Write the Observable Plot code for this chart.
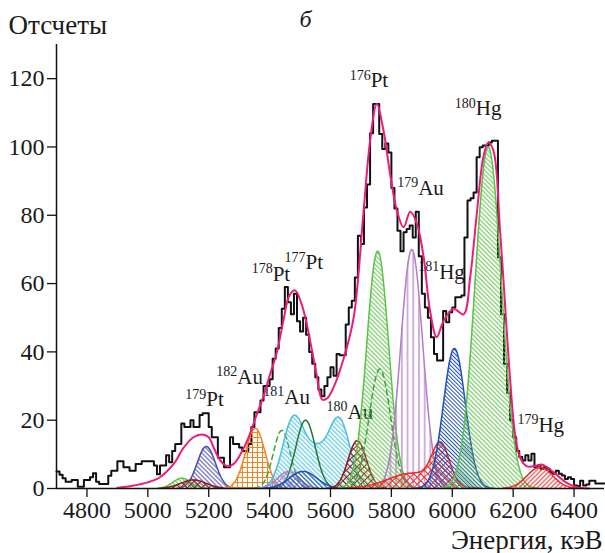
<!DOCTYPE html>
<html><head><meta charset="utf-8">
<script src="https://cdn.jsdelivr.net/npm/d3@7"></script>
<script src="https://cdn.jsdelivr.net/npm/@observablehq/plot@0.6"></script>
<style>body{margin:0;background:#fff} svg{display:block}</style>
</head><body><div id="chart"></div>
<script>
// ---------- data ----------
const binStart = 4700, binWidth = 10;
const counts = [
  5, 4, 3, 2, 2, 2.5, 2.5, 0.5, 0.5, 2.5,
  2.5, 3.3, 4.5, 2, 1.3, 1.3, 1.3, 3.7, 5.2, 5.2,
  8, 8, 6.2, 6.2, 5.2, 5.2, 7.2, 7.2, 8, 8,
  8, 8, 6.7, 4.2, 6.7, 6.7, 9.7, 7.7, 11, 13,
  13, 19, 18, 18, 20, 18, 18, 21.5, 22, 22,
  18, 15, 15, 9, 9, 6.2, 6.2, 15, 13, 13,
  12, 11, 11, 13, 18, 22.3, 22.3, 25.8, 30, 30,
  32, 38, 41, 47, 52.6, 59, 54.5, 51, 57, 49,
  46, 50, 45, 40, 36.5, 32.6, 29, 27, 30, 32.6,
  35.5, 33, 39.4, 39, 39, 48, 53, 55, 61.8, 74,
  71.6, 82.3, 89, 104, 112.6, 112.6, 103.8, 99.4, 101, 98.4,
  88, 82, 75.5, 69.5, 75, 76, 77, 73.5, 81, 68,
  57, 53, 50, 44.3, 39.4, 37.5, 37.5, 52, 48.7, 51.6,
  53, 56, 56, 56.5, 73.5, 84.3, 85, 86.7, 97, 99.9,
  100.4, 100.4, 101.3, 101.8, 101.8, 67.7, 51, 36.5, 28, 20,
  15, 11, 9.2, 8.2, 9.7, 8.2, 10.2, 6.2, 6.7, 5.8,
  6.2, 5.8, 4.8, 4.3, 5.2, 4.3, 3.8, 2.8, 3.3, 2.8,
  0.9, 0.7, 2.3, 0.9, 1.2, 2.3, 2.3, 1.5, 1.5, 1.5
];

// total fit curve
const fitEnergy = [4900, 4950, 5000, 5040, 5085, 5118, 5150, 5178, 5200, 5216, 5238, 5262, 5282, 5304, 5331, 5359, 5380, 5400, 5424, 5445, 5465, 5484, 5505, 5520, 5540, 5555, 5573, 5590, 5610, 5643, 5676, 5708, 5730, 5752, 5774, 5796, 5818, 5840, 5862, 5884, 5906, 5927, 5949, 5971, 6004, 6037, 6059, 6080, 6102, 6118, 6135, 6157, 6179, 6190, 6206, 6223, 6245, 6278, 6294, 6332, 6365, 6392, 6420, 6450];
const fitCounts = [0.2, 0.8, 1.8, 3.3, 7.2, 12, 15, 15.8, 15, 12, 8.2, 6.5, 7.2, 10, 15, 22, 27, 33, 40, 49, 56.5, 58, 54, 49, 40, 33, 26, 26.5, 29.6, 38, 50, 80.4, 101.8, 112.6, 104.8, 92, 81.4, 76.5, 81, 77.5, 67.7, 52, 44.3, 49, 52.6, 51, 62, 80, 97, 101.3, 99, 75.5, 46, 32, 16, 9, 6.5, 6.7, 7, 4.8, 2.3, 0.9, 0.2, 0];

// fitted peak components: [centre keV, height, width sigma keV]
const peakNames = ["179Pt", "low-green", "low-brown", "182Au", "dashed-1", "181Au+180Au", "177Pt", "small-violet", "small-blue", "brown", "176Pt", "dashed-2", "179Au", "red", "181Hg", "180Hg", "179Hg"];
const peakParams = [
  [[5192, 12.3, 30]],
  [[5112, 3, 30]],
  [[5150, 2.5, 42]],
  [[5353, 17.6, 32]],
  [[5440, 17, 28]],
  [[5480, 21, 36], [5627, 20.5, 36], [5553, 8, 30]],
  [[5518, 20, 32]],
  [[5462, 5, 35]],
  [[5510, 5, 45]],
  [[5688, 14, 30]],
  [[5755, 69.5, 36]],
  [[5762, 35, 35]],
  [[5867, 70, 36]],
  [[5962, 11.3, 28], [5870, 4.5, 80]],
  [[6007, 41, 36]],
  [[6118, 100, 43]],
  [[6288, 6.2, 42]]
];

// isotope labels (mass number, element, anchor energy, anchor count)
const labelMass = ["179", "182", "181", "180", "178", "177", "176", "180", "179", "181", "179"];
const labelElem = ["Pt", "Au", "Au", "Au", "Pt", "Pt", "Pt", "Hg", "Au", "Hg", "Hg"];
const labelEnergy = [5192, 5294, 5448, 5656, 5410, 5518, 5732, 6077, 5888, 5957, 6283];
const labelCount = [26.2, 32.7, 26.8, 22.4, 62.8, 66.3, 119.6, 111.4, 88.0, 63.4, 18.6];

const xTicks = [4800, 5000, 5200, 5400, 5600, 5800, 6000, 6200, 6400];
const yTicks = [0, 20, 40, 60, 80, 100, 120];

// ---------- styles ----------
const peakColor = ["#4b4bb0", "#5cc24a", "#8b1c1c", "#f5821f", "#3aa33a", "#45c2dc", "#1e7b35", "#b07cc6", "#2050b8", "#8b1c1c", "#5cc24a", "#3aa33a", "#b37cc6", "#ee2a24", "#2050b8", "#5cc24a", "#ee2a24"];
const peakHatch = ["back", "back", "cross", "grid", null, "back", null, "cross", "back", "cross", "back", null, "vert", "cross", "backd", "back", "fwd"];
const peakDashed = [false, false, false, false, true, false, false, false, false, false, false, true, false, false, false, false, false];

function patternSvg(id, kind, color) {
  const sw = 1;
  if (kind === "back" || kind === "fwd" || kind === "backd") {
    const w = kind === "backd" ? 2.8 : 3.2;
    const rot = kind === "fwd" ? 45 : -45;
    return `<pattern id="${id}" patternUnits="userSpaceOnUse" width="${w}" height="${w}" patternTransform="rotate(${rot})"><line x1="${w/2}" y1="0" x2="${w/2}" y2="${w}" stroke="${color}" stroke-width="${sw}"/></pattern>`;
  }
  if (kind === "cross") {
    const w = 5;
    return `<pattern id="${id}" patternUnits="userSpaceOnUse" width="${w}" height="${w}" patternTransform="rotate(45)"><line x1="${w/2}" y1="0" x2="${w/2}" y2="${w}" stroke="${color}" stroke-width="${sw}"/><line x1="0" y1="${w/2}" x2="${w}" y2="${w/2}" stroke="${color}" stroke-width="${sw}"/></pattern>`;
  }
  if (kind === "grid") {
    const w = 5;
    return `<pattern id="${id}" patternUnits="userSpaceOnUse" width="${w}" height="${w}"><line x1="${w/2}" y1="0" x2="${w/2}" y2="${w}" stroke="${color}" stroke-width="${sw}"/><line x1="0" y1="${w/2}" x2="${w}" y2="${w/2}" stroke="${color}" stroke-width="${sw}"/></pattern>`;
  }
  if (kind === "vert") {
    const w = 5.7;
    return `<pattern id="${id}" patternUnits="userSpaceOnUse" width="${w}" height="${w}"><line x1="${w/2}" y1="0" x2="${w/2}" y2="${w}" stroke="${color}" stroke-width="1.2"/></pattern>`;
  }
  return "";
}

// ---------- build ----------
const hist = counts.map((c, i) => ({e: binStart + i * binWidth, c}));
hist.push({e: binStart + counts.length * binWidth, c: counts[counts.length - 1]});
const fit = fitEnergy.map((e, i) => ({e, c: fitCounts[i]}));
const labels = labelMass.map((m, i) => ({mass: m, elem: labelElem[i], e: labelEnergy[i], c: labelCount[i]}));

const grid = d3.range(4700, 6500.001, 2);
const shapes = peakParams.map((peaks) =>
  grid.map(e => ({e, v: d3.sum(peaks, ([c, a, s]) => a * Math.exp(-((e - c) ** 2) / (2 * s * s)))}))
      .filter(d => d.v > 0.08)
);

const font = "'Liberation Serif', 'DejaVu Serif', serif";
const ink = "#1a1a1a";
const marks = [];
marks.push(Plot.text(labels, {x: "e", y: "c", text: "elem", textAnchor: "start", lineAnchor: "middle", fontSize: 21, fontFamily: font, fill: ink}));
marks.push(Plot.text(labels, {x: "e", y: "c", text: "mass", textAnchor: "end", lineAnchor: "middle", fontSize: 14, dy: -5, fontFamily: font, fill: ink}));
marks.push(Plot.line(hist, {x: "e", y: "c", curve: "step-after", stroke: "#111", strokeWidth: 2}));
shapes.forEach((pts, k) => {
  if (peakHatch[k]) marks.push(Plot.areaY(pts, {x: "e", y: "v", fill: `url(#hatch${k})`}));
  marks.push(Plot.lineY(pts, {x: "e", y: "v", stroke: peakColor[k], strokeWidth: 1.5, strokeDasharray: peakDashed[k] ? "5,4" : null}));
});
marks.push(Plot.line(fit, {x: "e", y: "c", curve: "catmull-rom", stroke: "#ec1c7a", strokeWidth: 2}));
marks.push(Plot.ruleY([0], {stroke: "#111", strokeWidth: 1.5}));
marks.push(Plot.ruleX([4700], {stroke: "#111", strokeWidth: 1.5}));
marks.push(Plot.axisX({ticks: xTicks, tickSize: 9, tickPadding: 3, label: null, fontSize: 24, fontFamily: font, tickFormat: d => String(d), stroke: "#111", strokeWidth: 1.3, fill: ink}));
marks.push(Plot.axisY({ticks: yTicks, tickSize: 9, tickPadding: 3, label: null, fontSize: 24, fontFamily: font, tickFormat: d => String(d), stroke: "#111", strokeWidth: 1.3, fill: ink}));
marks.push(Plot.text(["Отсчеты"], {frameAnchor: "top-left", lineAnchor: "middle", dx: -48, dy: -19.6, textAnchor: "start", fontSize: 27, fontFamily: font, fill: ink}));
marks.push(Plot.text(["б"], {frameAnchor: "top-left", lineAnchor: "middle", dx: 249, dy: -25, textAnchor: "middle", fontSize: 24, fontStyle: "italic", fontFamily: font, fill: ink}));
marks.push(Plot.text(["Энергия, кэВ"], {frameAnchor: "bottom-right", lineAnchor: "middle", dx: -2, dy: 51.4, textAnchor: "end", fontSize: 27, fontFamily: font, fill: ink}));

const svg = Plot.plot({
  width: 605, height: 553,
  marginLeft: 56, marginRight: 1, marginTop: 44, marginBottom: 65,
  x: {domain: [4700, 6500]},
  y: {domain: [0, 130]},
  style: {fontFamily: font, background: "white", color: ink, overflow: "visible"},
  marks
});
d3.select(svg).insert("defs", ":first-child")
  .html(peakHatch.map((h, k) => h ? patternSvg(`hatch${k}`, h, peakColor[k]) : "").join(""));
document.getElementById("chart").appendChild(svg);
</script>
</body></html>
